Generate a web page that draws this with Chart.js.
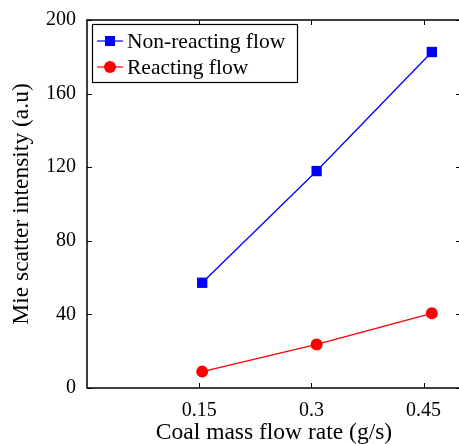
<!DOCTYPE html>
<html>
<head>
<meta charset="utf-8">
<script src="https://cdn.jsdelivr.net/npm/chart.js@4"></script>
<style>
  html, body { margin: 0; padding: 0; background: #fff; overflow: hidden; }
  canvas { display: block; }
</style>
</head>
<body>
<canvas id="chart" width="470" height="444"></canvas>
<script>
const flowRates = [0.154, 0.307, 0.461];
const nonReacting = [57.2, 117.9, 182.6];
const reacting = [8.9, 23.7, 40.6];
const xTickValues = [0.15, 0.3, 0.45];
const yTickValues = [0, 40, 80, 120, 160, 200];

const FONT = '"Liberation Serif", "Times New Roman", serif';

const toPoints = (ys) => flowRates.map((x, i) => ({ x, y: ys[i] }));

// frame + inward ticks like the matlab figure
const framePlugin = {
    id: 'frame',
    afterDraw(chart) {
        const { ctx, chartArea: a, scales } = chart;
        ctx.save();
        ctx.strokeStyle = '#000';
        ctx.lineWidth = 1.5;
        ctx.strokeRect(a.left, a.top, a.right - a.left, a.bottom - a.top);
        ctx.lineWidth = 1;
        const len = 5;
        scales.x.ticks.forEach(t => {
            const px = Math.round(scales.x.getPixelForValue(t.value)) + 0.5;
            ctx.beginPath();
            ctx.moveTo(px, a.bottom); ctx.lineTo(px, a.bottom - len);
            ctx.moveTo(px, a.top); ctx.lineTo(px, a.top + len);
            ctx.stroke();
        });
        scales.y.ticks.forEach(t => {
            const py = Math.round(scales.y.getPixelForValue(t.value)) + 0.5;
            ctx.beginPath();
            ctx.moveTo(a.left, py); ctx.lineTo(a.left + len, py);
            ctx.moveTo(a.right, py); ctx.lineTo(a.right - len, py);
            ctx.stroke();
        });
        ctx.restore();
    }
};

// boxed legend in the upper left corner of the plot
const legendPlugin = {
    id: 'boxLegend',
    afterDraw(chart) {
        const { ctx, chartArea: a } = chart;
        const x0 = a.left + 5, y0 = a.top + 4;
        const w = 205, h = 58;
        ctx.save();
        ctx.fillStyle = '#fff';
        ctx.fillRect(x0, y0, w, h);
        ctx.strokeStyle = '#000';
        ctx.lineWidth = 1.2;
        ctx.strokeRect(x0 + 0.5, y0 + 0.5, w, h);
        ctx.font = '21.5px ' + FONT;
        ctx.textBaseline = 'middle';
        chart.data.datasets.forEach((ds, i) => {
            const cy = y0 + 17 + i * 26;
            ctx.strokeStyle = ds.borderColor;
            ctx.lineWidth = 1.2;
            ctx.beginPath();
            ctx.moveTo(x0 + 5, cy); ctx.lineTo(x0 + 31, cy);
            ctx.stroke();
            ctx.fillStyle = ds.pointBackgroundColor;
            if (ds.pointStyle === 'rect') {
                ctx.fillRect(x0 + 18 - 5, cy - 5, 10, 10);
            } else {
                ctx.beginPath();
                ctx.arc(x0 + 18, cy, 6, 0, Math.PI * 2);
                ctx.fill();
            }
            ctx.fillStyle = '#000';
            ctx.fillText(ds.label, x0 + 35, cy + 1);
        });
        ctx.restore();
    }
};

new Chart(document.getElementById('chart'), {
    type: 'line',
    data: {
        datasets: [
            {
                label: 'Non-reacting flow',
                data: toPoints(nonReacting),
                borderColor: '#0000ff',
                backgroundColor: '#0000ff',
                pointBackgroundColor: '#0000ff',
                pointBorderWidth: 0,
                pointStyle: 'rect',
                pointRadius: 7.3,
                borderWidth: 1.3,
                tension: 0,
            },
            {
                label: 'Reacting flow',
                data: toPoints(reacting),
                borderColor: '#ff0000',
                backgroundColor: '#ff0000',
                pointBackgroundColor: '#ff0000',
                pointBorderWidth: 0,
                pointStyle: 'circle',
                pointRadius: 6,
                borderWidth: 1.3,
                tension: 0,
            },
        ],
    },
    options: {
        responsive: false,
        animation: false,
        layout: { padding: { top: 20, right: 9, left: 0, bottom: 0 } },
        plugins: { legend: { display: false }, tooltip: { enabled: false } },
        scales: {
            x: {
                type: 'linear',
                min: 0,
                max: 0.5,
                afterBuildTicks: (scale) => { scale.ticks = xTickValues.map(v => ({ value: v })); },
                afterFit: (scale) => { scale.height = 56; },
                grid: { display: false },
                border: { display: false },
                ticks: {
                    color: '#000',
                    font: { family: FONT, size: 20 },
                    padding: 3,
                    maxRotation: 0,
                    callback: (v) => String(v),
                },
                title: {
                    display: true,
                    text: 'Coal mass flow rate (g/s)',
                    color: '#000',
                    font: { family: FONT, size: 23.5 },
                    padding: { top: 0, bottom: -3 },
                },
            },
            y: {
                min: 0,
                max: 200,
                afterBuildTicks: (scale) => { scale.ticks = yTickValues.map(v => ({ value: v })); },
                afterFit: (scale) => { scale.width = 87; },
                grid: { display: false },
                border: { display: false },
                ticks: {
                    color: '#000',
                    font: { family: FONT, size: 20 },
                    padding: 3,
                },
                title: {
                    display: true,
                    text: 'Mie scatter intensity (a.u)',
                    color: '#000',
                    font: { family: FONT, size: 23.5 },
                    padding: { top: 8, bottom: 0 },
                },
            },
        },
    },
    plugins: [framePlugin, legendPlugin],
});
</script>
</body>
</html>
